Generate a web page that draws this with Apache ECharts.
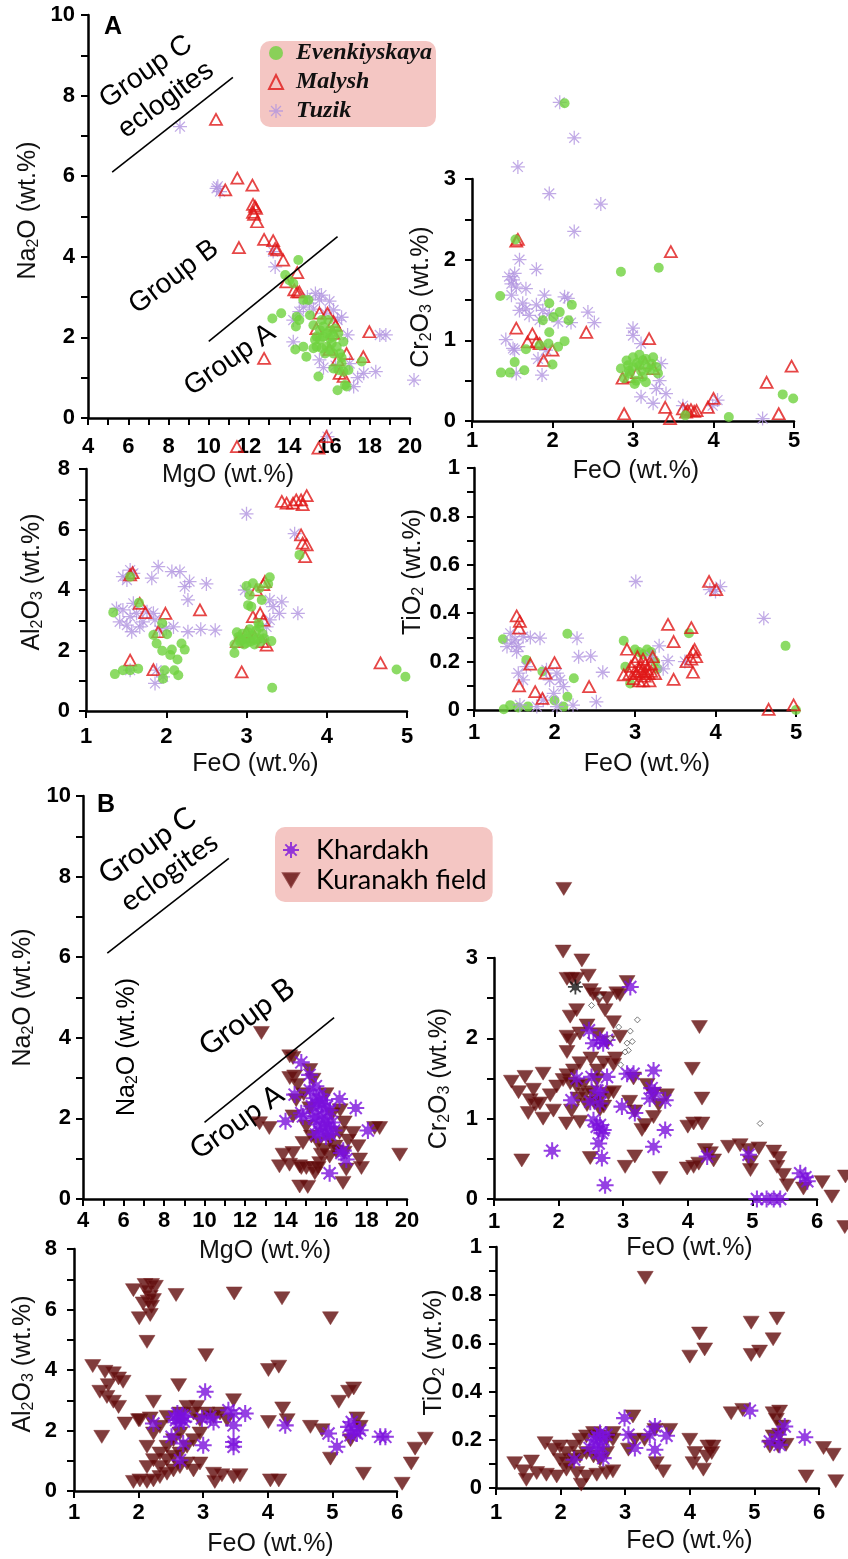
<!DOCTYPE html>
<html>
<head>
<meta charset="utf-8">
<script src="https://cdn.jsdelivr.net/npm/echarts@6/dist/echarts.min.js"></script>
<style>
  html, body { margin: 0; padding: 0; background: #fff; }
  #chart { width: 848px; height: 1559px; }
</style>
</head>
<body>
<div id="chart"></div>
<script>
// ---------- Garnet compositions, wt.% ----------
// Panel A: Na2O vs MgO
const evenkMgO_Na2O = [[14.45,3.92],[13.8,3.55],[14.0,3.42],[14.2,3.34],[14.7,2.93],[14.95,2.93],[13.6,2.6],[13.16,2.47],[14.37,2.51],[14.33,2.27],[14.5,2.43],[14.3,1.70],[14.7,1.77],[14.85,1.52],[15.03,2.55],[15.2,2.3],[15.45,1.03],
  [15.53,2.18],[15.69,2.02],[15.86,2.10],[16.02,2.18],[16.19,2.02],[15.36,1.77],[15.61,1.73],[15.86,1.77],[16.11,1.85],[16.19,1.60],[15.78,1.60],[15.53,1.94],[16.02,1.69],[16.27,2.22],[16.44,2.10],[15.36,2.02],[15.69,2.27],[15.94,2.43],[15.28,1.94],[16.36,1.77],[15.61,2.43],[16.02,1.98],[15.2,1.73],[16.52,1.6],[16.6,1.36],[16.69,1.89],
  [16.4,0.69],[16.85,0.78],[16.77,0.82],[16.19,1.23],[16.44,1.19],[16.69,1.15],[16.94,1.19],[17.6,1.4],[16.6,1.5]];
const malyshMgO_Na2O = [[10.36,7.41],[11.42,5.95],[10.82,5.66],[12.17,5.78],[12.2,5.3],[12.3,5.25],[12.2,5.1],[12.35,5.2],[12.25,5.05],[12.4,4.87],[11.5,4.23],[12.75,4.43],[13.2,4.4],[13.3,4.21],[13.4,4.17],[13.7,3.92],[13.85,3.38],[14.4,3.61],[14.25,3.18],[14.4,3.13],[14.5,3.13],[15.5,2.6],[15.9,2.6],[16.2,2.39],[15.35,2.22],[16.2,2.1],[16.85,1.6],[16.4,1.44],[16.5,1.11],[16.7,1.03],[17.68,1.52],[17.98,2.14],[12.75,1.48],[11.4,-0.71],[15.45,-0.75],[15.85,-0.46],[16.3,2.3],[16.0,1.7]];
const tuzikMgO_Na2O = [[8.57,7.23],[10.39,5.70],[10.56,5.62],[10.45,5.75],[13.3,3.75],[13.2,4.13],[14.2,2.43],[14.2,1.89],[14.5,2.64],[14.9,3.0],[15.3,3.09],[15.5,2.93],[15.8,2.6],[16.2,2.68],[16.4,2.43],[15.5,1.44],[16.9,2.06],[17.2,0.78],[17.7,1.11],[18.3,1.15],[18.5,2.06],[18.8,2.06],[20.2,0.94],[15.9,-0.46],[15.0,2.85],[15.6,3.05],[14.7,2.75],[16.0,2.9],[15.2,2.7],[16.6,2.5],[17.0,1.35],[16.3,1.3],[15.7,1.25],[17.4,1.0]];

// Panel A: Cr2O3 vs FeO
const evenkFeO_Cr2O3 = [[2.15,3.94],[1.54,2.25],[2.85,1.85],[3.32,1.90],[1.35,1.55],[1.96,1.46],[2.24,1.44],[1.88,1.25],[2.01,1.29],[2.09,1.35],[2.20,1.25],[1.96,1.10],[1.67,0.89],[1.84,0.94],[1.95,0.96],[2.07,0.92],[2.15,0.99],[1.53,0.73],[2.0,0.70],[1.36,0.60],[1.47,0.60],[1.65,0.63],
  [2.85,0.65],[2.92,0.75],[3.0,0.79],[3.08,0.82],[3.16,0.77],[3.23,0.71],[3.29,0.67],[3.31,0.59],[2.96,0.59],[3.04,0.50],[3.12,0.55],[3.21,0.63],[2.89,0.53],[3.02,0.46],[3.16,0.48],[3.08,0.69],[3.0,0.67],[2.94,0.69],[3.12,0.75],[3.25,0.79],[2.95,0.62],[3.1,0.62],[3.05,0.72],[3.18,0.66],
  [3.65,0.07],[4.19,0.05],[4.86,0.33],[4.99,0.28]];
const malyshFeO_Cr2O3 = [[1.55,2.23],[1.57,2.25],[3.47,2.10],[1.55,1.15],[1.75,1.08],[1.69,0.98],[1.80,0.98],[1.84,0.96],[2.42,1.10],[2.0,0.88],[1.89,0.75],[3.2,1.02],[2.87,0.53],[3.25,0.65],[2.95,0.55],[3.05,0.6],[3.15,0.72],[2.89,0.09],[3.4,0.17],[3.46,0.03],[3.62,0.15],[3.68,0.13],[3.72,0.14],[3.76,0.12],[3.79,0.13],[3.66,0.11],[3.93,0.17],[4.0,0.28],[4.66,0.48],[4.81,0.09],[4.97,0.68]];
const tuzikFeO_Cr2O3 = [[2.09,3.95],[2.27,3.51],[1.57,3.15],[1.96,2.82],[2.60,2.69],[2.27,2.35],[1.59,2.0],[1.80,1.88],[1.46,1.79],[1.51,1.75],[1.49,1.70],[1.53,1.83],[1.55,1.66],[1.67,1.64],[1.49,1.56],[1.63,1.46],[1.59,1.37],[1.67,1.39],[1.71,1.31],[1.80,1.44],[1.90,1.56],[2.15,1.54],[2.19,1.52],[2.44,1.35],[2.52,1.22],[2.23,1.22],[2.07,1.23],[1.96,1.33],[1.88,1.37],[1.84,1.25],[1.42,1.01],[1.51,0.90],[1.53,0.88],[1.82,0.77],[1.92,0.88],[1.55,0.59],[1.87,0.57],[3.0,1.15],[3.0,1.06],[3.1,0.96],[3.35,0.71],[3.29,0.40],[3.41,0.34],[3.25,0.22],[3.10,0.30],[3.62,0.19],[4.05,0.26],[3.99,0.19],[4.61,0.03],[3.33,0.5]];

// Panel A: Al2O3 vs FeO
const evenkFeO_Al2O3 = [[1.34,3.26],[1.55,4.44],[1.66,3.58],[1.36,1.22],[1.46,1.35],[1.55,1.35],[1.65,1.40],[1.84,2.51],[1.88,2.23],[1.95,2.90],[2.01,2.54],[1.95,1.99],[2.07,2.03],[2.05,1.85],[2.19,2.23],[2.23,2.03],[2.14,1.70],[1.98,1.35],[2.10,1.35],[2.15,1.18],[1.96,1.07],[3.66,5.16],[3.0,4.13],[3.08,4.22],[3.16,4.06],[3.04,3.83],[3.29,4.42],[3.27,4.20],[3.02,3.50],[3.06,3.45],[3.19,3.67],
  [2.85,2.2],[2.9,2.45],[2.92,2.3],[2.95,2.55],[2.97,2.2],[3.0,2.4],[3.02,2.6],[3.05,2.3],[3.07,2.5],[3.1,2.2],[3.12,2.65],[3.14,2.4],[3.16,2.78],[3.18,2.3],[3.2,2.55],[3.22,2.4],[2.88,2.6],[3.0,2.25],[3.1,2.35],[3.04,2.7],[2.94,2.35],[3.15,2.9],
  [2.85,1.92],[3.31,2.31],[3.32,0.77],[4.87,1.37],[4.98,1.13]];
const malyshFeO_Al2O3 = [[3.44,6.93],[3.5,6.87],[3.58,6.87],[3.68,6.98],[3.75,7.12],[3.70,6.82],[3.62,6.98],[3.68,5.82],[3.70,5.55],[3.75,5.49],[3.73,5.10],[1.55,4.50],[1.58,4.57],[1.67,3.56],[1.74,3.25],[1.99,3.23],[2.42,3.34],[1.90,2.62],[1.55,1.68],[1.84,1.37],[2.94,1.29],[3.12,4.0],[3.23,4.28],[3.21,4.18],[3.08,3.12],[3.17,3.23],[3.21,3.0],[3.20,2.29],[3.25,2.18],[2.88,2.29],[3.0,2.6],[3.1,2.45],[4.67,1.59]];
const tuzikFeO_Al2O3 = [[3.0,6.52],[3.6,5.86],[1.55,4.66],[1.46,4.44],[1.59,4.55],[1.51,4.33],[1.90,4.77],[1.82,4.39],[2.07,4.61],[2.17,4.61],[2.23,4.11],[2.29,4.28],[2.27,3.67],[2.50,4.20],[1.46,3.34],[1.55,3.12],[1.59,3.56],[1.67,2.78],[1.51,2.84],[1.57,2.62],[1.71,2.95],[1.63,3.23],[1.76,3.28],[1.84,3.23],[1.86,3.01],[1.92,2.67],[2.0,2.73],[2.09,2.78],[2.27,2.62],[2.43,2.70],[2.61,2.67],[1.55,1.35],[1.88,1.35],[1.86,0.91],[1.96,1.13],[2.98,4.0],[3.29,3.67],[3.33,3.45],[3.41,3.23],[3.29,3.01],[3.25,2.78],[3.21,2.34],[3.64,3.23],[3.44,3.61],[1.38,3.39],[1.42,2.95]];

// Panel A: TiO2 vs FeO
const evenkFeO_TiO2 = [[1.36,0.292],[1.37,0.003],[1.65,0.207],[1.67,0.014],[1.85,0.159],[2.0,0.039],[2.11,0.014],[2.16,0.315],[2.16,0.055],[2.24,0.131],[2.86,0.286],[2.88,0.179],[2.94,0.11],[3.0,0.25],[3.05,0.24],[3.1,0.23],[3.2,0.24],[3.25,0.2],[3.28,0.17],[3.15,0.25],[3.67,0.317],[4.87,0.265],[5.0,0.0],[1.55,0.01],[1.45,0.02]];
const malyshFeO_TiO2 = [[1.53,0.389],[1.57,0.366],[1.56,0.338],[1.70,0.19],[1.56,0.10],[1.76,0.076],[1.85,0.048],[1.89,0.152],[2.0,0.196],[2.43,0.097],[2.90,0.251],[2.86,0.145],
  [2.95,0.18],[2.98,0.13],[3.0,0.2],[3.02,0.15],[3.05,0.12],[3.07,0.18],[3.1,0.21],[3.12,0.14],[3.15,0.17],[3.18,0.12],[3.2,0.19],[3.22,0.22],[3.25,0.15],[3.0,0.16],[3.08,0.16],[3.13,0.19],[3.03,0.22],[3.17,0.15],[2.93,0.15],[3.1,0.12],[3.05,0.17],[3.12,0.16],[3.2,0.16],
  [3.41,0.354],[3.48,0.283],[3.48,0.127],[3.70,0.34],[3.72,0.156],[3.64,0.2],[3.72,0.24],[3.76,0.22],[3.70,0.21],[3.74,0.25],[3.92,0.531],[4.01,0.497],[4.66,0.003],[4.97,0.021]];
const tuzikFeO_TiO2 = [[3.01,0.531],[3.93,0.497],[4.06,0.51],[4.0,0.49],[4.6,0.379],[1.45,0.317],[1.51,0.290],[1.55,0.262],[1.47,0.276],[1.61,0.303],[1.53,0.241],[1.41,0.262],[1.70,0.30],[1.82,0.297],[2.28,0.297],[2.30,0.22],[2.45,0.223],[2.60,0.156],[2.52,0.034],[2.23,0.02],[1.90,0.166],[2.03,0.152],[2.07,0.124],[1.94,0.124],[2.11,0.097],[1.99,0.069],[1.86,0.041],[2.03,0.014],[1.78,0.014],[1.57,0.021],[1.61,0.124],[1.55,0.152],[1.65,0.179],[3.3,0.265],[3.41,0.204],[3.62,0.2],[3.35,0.17],[3.2,0.22]];

// Panel B: Na2O vs MgO
const kuranakhMgO_Na2O = [[12.81,4.12],[14.21,3.54],[14.37,3.50],[14.45,3.04],[14.21,3.0],[14.6,2.83],[12.72,1.88],[13.2,1.76],[13.88,1.10],[13.7,0.81],[14.2,0.85],[14.37,1.14],[14.7,0.81],[14.78,0.77],[15.03,0.77],[15.36,0.77],[15.45,0.64],[14.7,0.31],[15.1,0.30],[14.86,1.39],[15.69,0.89],[15.61,0.77],[17.0,0.73],[16.84,0.40],[17.33,1.64],[17.58,1.31],[17.66,0.98],[17.75,0.77],[18.4,1.76],[18.65,1.76],[19.64,1.10],[16.5,1.18],[16.67,1.64],[16.2,1.47],[16.45,1.3],[14.37,2.05],[14.53,2.45],[15.36,2.96],[15.2,3.2],[15.03,1.80],[15.28,1.55],[15.6,1.39],[15.93,1.22],[16.18,1.05],[15.77,1.1],[16.9,1.9],[17.1,1.45],[16.3,2.1],[16.7,2.2],[16.0,2.6],[15.2,2.25],[14.9,2.6],[16.9,1.15]];
const khardakhMgO_Na2O = [[14.78,3.39],[15.19,3.08],[14.45,2.59],[14.0,1.93],[14.78,2.13],[14.86,2.05],[15.2,2.7],[15.4,2.5],[15.5,2.8],[15.6,2.3],[15.7,2.6],[15.8,2.1],[15.9,2.45],[16.0,2.0],[16.1,1.8],[16.2,2.2],[15.5,2.05],[15.6,1.85],[15.7,1.65],[15.9,1.75],[16.0,1.55],[16.2,1.6],[16.3,1.9],[15.3,2.3],[15.4,2.0],[15.8,2.35],[15.65,2.45],[16.05,2.3],[15.95,1.9],[16.4,1.7],[15.5,1.6],[16.67,2.48],[17.47,2.26],[18.07,1.70],[16.76,1.14],[17.0,0.98],[16.85,1.2],[16.18,0.64]];

// Panel B: Cr2O3 vs FeO
const kuranakhFeO_Cr2O3 = [[2.08,3.86],[2.07,3.08],[2.36,2.97],[2.46,2.78],[2.13,2.74],[2.20,2.74],[2.28,2.74],[2.49,2.6],[2.54,2.55],[2.62,2.5],[2.75,2.5],[2.90,2.56],[2.95,2.54],[3.06,2.7],[2.28,2.35],[2.18,2.27],[2.72,2.35],[2.44,2.16],[2.85,2.2],[2.13,2.02],[2.18,1.98],[2.33,2.06],[2.95,2.02],[2.13,1.83],[2.33,1.69],[2.23,1.6],[2.13,1.54],[2.88,1.75],[2.85,1.67],[1.27,1.46],[1.48,1.52],[1.76,1.56],[1.38,1.33],[1.61,1.36],[1.56,1.23],[1.64,1.17],[1.71,1.19],[1.53,1.07],[1.76,1.0],[1.92,1.10],[1.87,1.29],[1.97,1.40],[2.12,0.94],[2.33,0.96],
  [2.07,1.48],[2.18,1.44],[2.28,1.40],[2.38,1.42],[2.51,1.33],[2.59,1.48],[2.64,1.25],[2.77,1.31],[2.85,1.33],[2.44,1.17],[2.64,1.11],
  [3.16,1.5],[3.10,1.21],[3.18,1.09],[3.37,1.42],[3.47,1.31],[3.34,0.92],[3.47,1.02],[3.55,1.17],[3.67,1.29],[3.29,0.86],[1.43,0.48],[2.49,0.51],[3.03,0.40],[3.18,0.53],[3.57,0.26],[4.07,1.62],[4.18,2.14],[4.22,1.25],
  [4.0,0.9],[4.09,0.94],[4.22,0.94],[4.27,0.61],[4.35,0.57],[4.40,0.48],[4.17,0.44],[3.99,0.38],[4.09,0.40],[4.63,0.65],[4.81,0.67],[4.94,0.61],[5.10,0.63],[4.97,0.36],[4.97,0.46],[5.33,0.59],[5.41,0.51],[5.38,0.40],[5.48,0.30],[5.54,0.17],
  [5.79,0.13],[6.08,0.21],[6.23,0.03],[6.44,0.28],[6.43,-0.35],
  [2.4,1.3],[2.55,1.2],[2.7,1.15],[2.2,1.1],[2.3,1.25],[2.6,1.6],[2.7,1.7],[2.5,1.75],[2.75,1.95],[2.6,2.05]];
const khardakhFeO_Cr2O3 = [[3.11,2.64],[2.47,2.10],[2.54,1.94],[2.64,1.98],[2.69,1.94],[2.75,1.98],[3.06,1.56],[3.16,1.56],[3.47,1.60],[2.28,1.50],[2.51,1.52],[2.75,1.52],[2.6,1.35],[2.65,1.33],[2.20,1.23],[2.49,1.21],[2.64,1.19],[2.98,1.15],[3.18,1.07],[3.44,1.38],[3.49,1.32],[3.41,1.25],[3.65,1.23],[2.54,0.98],[2.64,0.92],[2.69,0.86],[2.59,0.90],[2.67,0.82],[3.65,0.86],[2.62,0.69],[1.90,0.60],[2.67,0.51],[3.47,0.65],[2.72,0.17],[4.30,0.53],[4.94,0.55],[5.07,0.0],[5.22,0.0],[5.33,0.0],[5.43,0.0],[5.74,0.32],[5.82,0.27],[5.85,0.22]];
const otherStarFeO_Cr2O3 = [[2.26,2.64]];
const otherDiamondFeO_Cr2O3 = [[2.51,2.41],[2.64,2.52],[2.93,2.14],[3.11,2.09],[3.22,2.23],[3.06,1.94],[3.14,1.96],[3.08,1.85],[3.03,1.83],[2.96,1.67],[2.80,2.0],[5.12,0.94]];

// Panel B: Al2O3 vs FeO
const kuranakhFeO_Al2O3 = [[1.92,6.64],[2.10,6.81],[2.20,6.81],[2.26,6.75],[2.13,6.59],[2.18,6.42],[2.15,6.26],[2.23,6.31],[2.07,6.20],[2.20,6.09],[2.01,5.71],[2.18,5.82],[2.13,4.93],[2.58,6.48],[3.04,4.49],[3.48,6.53],[4.22,6.37],[4.97,5.71],[1.29,4.13],[1.48,3.94],[1.61,3.89],[1.69,3.72],[1.76,3.61],[1.40,3.28],[1.51,3.11],[1.61,2.95],[1.69,2.78],[1.79,2.23],[1.43,1.79],[1.53,3.50],[2.62,3.50],[2.23,2.95],[4.01,4.0],[4.17,4.11],[4.01,2.28],[4.23,2.73],[4.30,2.34],[4.66,2.12],[4.84,2.01],[4.97,1.07],[5.10,2.95],[5.25,3.28],[5.33,3.39],[5.28,1.68],[5.38,2.40],[5.43,2.12],[5.48,0.57],[6.08,0.24],[6.22,0.91],[6.28,1.40],[6.44,1.73],[3.47,3.0],[4.04,0.35],[4.17,0.35],[3.16,0.57],[3.29,0.52],[3.47,0.46],[3.57,0.52],[3.18,0.30],
  [1.92,0.30],[2.02,0.35],[2.13,0.30],[2.23,0.35],[2.33,0.46],[2.44,0.57],[2.54,0.68],[2.64,0.79],[2.75,0.91],[2.85,0.68],[2.95,0.91],[2.33,0.79],[2.44,1.02],[2.54,1.13],[2.64,1.24],[2.75,1.46],[2.85,1.68],[2.95,1.90],[2.13,0.79],[2.23,1.02],[2.33,1.24],[2.44,1.46],[2.54,1.68],[2.64,1.90],[2.23,1.90],[2.13,1.46],[2.02,2.34],[2.33,2.12],[2.44,2.45],[2.64,2.56],[2.75,2.78],[2.85,2.56],[2.95,2.34],[3.06,2.56],[3.16,2.45],[3.26,2.56],[3.37,2.34],[2.90,2.78],[2.18,2.40],[2.0,2.34]];
const khardakhFeO_Al2O3 = [[3.03,3.28],[2.23,2.23],[2.51,1.79],[2.55,2.45],[2.6,2.56],[2.65,2.4],[2.7,2.3],[2.62,2.25],[2.68,2.5],[2.58,2.35],[2.72,2.45],[2.64,1.02],[2.69,1.57],[3.0,1.51],[2.98,2.40],[3.16,2.28],[3.11,2.45],[3.39,2.67],[3.47,2.56],[3.47,2.17],[3.47,1.62],[3.47,1.46],[3.65,2.56],[4.27,2.17],[4.94,1.90],[5.07,1.46],[5.25,2.12],[5.33,2.01],[5.38,1.90],[5.43,2.01],[5.28,1.84],[5.30,2.28],[5.74,1.79],[5.82,1.79]];

// Panel B: TiO2 vs FeO
const kuranakhFeO_TiO2 = [[3.31,0.872],[4.15,0.641],[4.23,0.575],[4.0,0.545],[4.95,0.686],[4.95,0.552],[5.08,0.566],[5.29,0.617],[5.35,0.703],[4.64,0.31],[4.82,0.324],[5.29,0.310],[5.39,0.317],[5.34,0.283],[5.42,0.255],[5.39,0.221],[5.29,0.214],[5.24,0.172],[5.37,0.172],[5.49,0.179],[6.07,0.166],[6.22,0.138],[5.8,0.048],[6.26,0.028],[4.0,0.2],[4.08,0.145],[4.05,0.103],[4.21,0.076],[4.28,0.172],[4.36,0.172],[4.26,0.131],[4.34,0.145],[3.46,0.241],[3.69,0.241],[3.48,0.103],[3.59,0.069],[2.81,0.2],[3.12,0.297],[3.05,0.159],[1.76,0.186],[1.29,0.103],[1.55,0.11],
  [1.42,0.069],[1.63,0.062],[1.78,0.055],[1.94,0.048],[2.09,0.076],[2.25,0.062],[2.40,0.048],[2.56,0.055],[2.71,0.062],[2.81,0.069],[1.47,0.034],[2.32,0.014],
  [1.89,0.159],[1.99,0.172],[2.09,0.145],[2.20,0.172],[2.30,0.2],[2.40,0.214],[2.51,0.228],[2.61,0.214],[2.71,0.2],[2.81,0.228],[1.99,0.117],[2.09,0.103],[2.20,0.117],[2.30,0.131],[2.40,0.145],[2.51,0.131],[2.61,0.117],[2.71,0.145],[3.3,0.2],[3.15,0.2]];
const khardakhFeO_TiO2 = [[2.99,0.29],[3.05,0.221],[3.15,0.166],[2.21,0.117],[2.45,0.166],[2.56,0.214],[2.61,0.228],[2.66,0.2],[2.71,0.221],[2.63,0.172],[2.66,0.124],[2.58,0.145],[2.52,0.2],[2.55,0.18],[3.38,0.221],[3.46,0.255],[3.46,0.159],[3.64,0.217],[4.93,0.321],[5.24,0.193],[5.37,0.221],[5.47,0.255],[5.39,0.179],[5.78,0.211]];

// Boundaries between eclogite groups (MgO, Na2O)
const boundaryC = [[5.2,6.1],[11.2,8.45]];
const boundaryAB = [[10,1.9],[16.4,4.5]];

// ---------- styling ----------
const SANS = '"Liberation Sans", Arial, Helvetica, sans-serif';
const SERIF = '"Liberation Serif", "Times New Roman", serif';
const LATO = 'Lato, "Open Sans", sans-serif';

const STAR_THIN = 'path://M0 9.1L20 9.1L20 10.9L0 10.9Z M9.1 0L10.9 0L10.9 20L9.1 20Z M3.57 2.29L17.71 16.43L16.43 17.71L2.29 3.57Z M17.71 3.57L3.57 17.71L2.29 16.43L16.43 2.29Z';
const STAR_SUN = 'path://M0 8.8L20 8.8L20 11.2L0 11.2Z M8.8 0L11.2 0L11.2 20L8.8 20Z M3.78 2.08L17.92 16.22L16.22 17.92L2.08 3.78Z M17.92 3.78L3.78 17.92L2.08 16.22L16.22 2.08Z M15 10A5 5 0 1 1 5 10A5 5 0 1 1 15 10Z';
const DOWN_TRIANGLE = 'path://M0 0L20 0L10 17Z';

const styleEvenk = { symbol: 'circle', symbolSize: 10, itemStyle: { color: '#6fd23e' } };
const styleMalysh = { symbol: 'triangle', symbolSize: [12, 11], itemStyle: { color: 'rgba(255,255,255,0)', borderColor: '#e01818', borderWidth: 1.8 } };
const styleTuzik = { symbol: STAR_THIN, symbolSize: 14, itemStyle: { color: '#b295e0' } };
const styleKhardakh = { symbol: STAR_SUN, symbolSize: 17, itemStyle: { color: '#7a10dc' } };
const styleKuranakh = { symbol: DOWN_TRIANGLE, symbolSize: [16, 13], itemStyle: { color: '#600b0b', borderColor: '#803030', borderWidth: 0.6 } };

const GRIDS = [
  { left: 88, top: 15, width: 322, height: 403 },
  { left: 472, top: 179, width: 322, height: 242 },
  { left: 86, top: 469, width: 321, height: 242 },
  { left: 474, top: 468, width: 322, height: 242 },
  { left: 83, top: 796, width: 324, height: 403 },
  { left: 494, top: 958, width: 323, height: 241 },
  { left: 74, top: 1249, width: 323, height: 242 },
  { left: 496, top: 1247, width: 323, height: 241 }
];

const TITLES = {
  na: '{t|Na}{s|2}{t|O (wt.%)}',
  cr: '{t|Cr}{s|2}{t|O}{s|3}{t| (wt.%)}',
  al: '{t|Al}{s|2}{t|O}{s|3}{t| (wt.%)}',
  ti: '{t|TiO}{s|2}{t| (wt.%)}'
};
const richTitle = {
  t: { fontFamily: SANS, fontSize: 25, lineHeight: 28, color: '#111' },
  s: { fontFamily: SANS, fontSize: 16, lineHeight: 28, verticalAlign: 'bottom', color: '#111' }
};

// axis specs: [min, max, interval, minorSplit, name, nameGap, shift, labelMargin]
const X_AXES = [
  [4, 20, 2, 2, 'MgO (wt.%)', 43, -21, 18],
  [1, 5, 1, 0, 'FeO (wt.%)', 36, 3, 9],
  [1, 5, 1, 0, 'FeO (wt.%)', 39, 9, 15],
  [1, 5, 1, 0, 'FeO (wt.%)', 40, 12, 12],
  [4, 20, 2, 2, 'MgO (wt.%)', 38, 20, 11],
  [1, 6, 1, 0, 'FeO (wt.%)', 35, 34, 12],
  [1, 6, 1, 0, 'FeO (wt.%)', 39, 35, 11],
  [1, 6, 1, 0, 'FeO (wt.%)', 39, 32, 14]
];
const Y_AXES = [
  [0, 10, 2, 2, TITLES.na, 46, 6, 13],
  [0, 3, 1, 2, TITLES.cr, 37, 3, 16],
  [0, 8, 2, 2, TITLES.al, 40, 8, 16],
  [0, 1, 0.2, 2, TITLES.ti, 47, 17, 14],
  [0, 10, 2, 2, TITLES.na, 46, 0, 12],
  [0, 3, 1, 2, TITLES.cr, 41, 0, 16],
  [0, 8, 2, 2, TITLES.al, 37, 6, 17],
  [0, 1, 0.2, 2, TITLES.ti, 48, 15, 14]
];

function axis(i, spec, isY) {
  const [min, max, interval, minor, name, gap, shift, margin] = spec;
  const pad = shift >= 0 ? [0, 0, 0, 2 * shift] : [0, -2 * shift, 0, 0];
  return {
    type: 'value', gridIndex: i, position: isY ? 'left' : 'bottom',
    min, max, interval,
    axisLine: { show: true, onZero: false, lineStyle: { color: '#000', width: 2.5 } },
    axisTick: { show: true, length: 7, lineStyle: { color: '#000', width: 2 } },
    minorTick: { show: minor > 1, splitNumber: minor || 2, length: 7, lineStyle: { color: '#000', width: 2 } },
    splitLine: { show: false }, minorSplitLine: { show: false },
    axisLabel: { margin, fontFamily: SANS, fontWeight: 700, fontSize: 22, color: '#000', showMinLabel: true, showMaxLabel: true, hideOverlap: false },
    name, nameLocation: 'middle', nameGap: gap, nameRotate: isY ? 90 : 0, nameMoveOverlap: false,
    nameTextStyle: isY
      ? { rich: richTitle, padding: pad }
      : { fontFamily: SANS, fontSize: 25, lineHeight: 28, color: '#111', padding: pad }
  };
}

function scatter(name, data, gi, style) {
  return Object.assign({ type: 'scatter', name, data, xAxisIndex: gi, yAxisIndex: gi, clip: false, silent: true }, style);
}
function boundary(data, gi) {
  return { type: 'line', data, xAxisIndex: gi, yAxisIndex: gi, symbol: 'none', silent: true,
    lineStyle: { color: '#000', width: 1.6 } };
}

const series = [
  boundary(boundaryC, 0), boundary(boundaryAB, 0),
  scatter('Tuzik', tuzikMgO_Na2O, 0, styleTuzik),
  scatter('Malysh', malyshMgO_Na2O, 0, styleMalysh),
  scatter('Evenkiyskaya', evenkMgO_Na2O, 0, styleEvenk),

  scatter('Tuzik', tuzikFeO_Cr2O3, 1, styleTuzik),
  scatter('Malysh', malyshFeO_Cr2O3, 1, styleMalysh),
  scatter('Evenkiyskaya', evenkFeO_Cr2O3, 1, styleEvenk),

  scatter('Tuzik', tuzikFeO_Al2O3, 2, styleTuzik),
  scatter('Malysh', malyshFeO_Al2O3, 2, styleMalysh),
  scatter('Evenkiyskaya', evenkFeO_Al2O3, 2, styleEvenk),

  scatter('Evenkiyskaya', evenkFeO_TiO2, 3, styleEvenk),
  scatter('Tuzik', tuzikFeO_TiO2, 3, styleTuzik),
  scatter('Malysh', malyshFeO_TiO2, 3, styleMalysh),

  boundary(boundaryC, 4), boundary(boundaryAB, 4),
  scatter('Kuranakh field', kuranakhMgO_Na2O, 4, styleKuranakh),
  scatter('Khardakh', khardakhMgO_Na2O, 4, styleKhardakh),

  scatter('Kuranakh field', kuranakhFeO_Cr2O3, 5, styleKuranakh),
  scatter('Khardakh', khardakhFeO_Cr2O3, 5, styleKhardakh),
  scatter('', otherDiamondFeO_Cr2O3, 5, { symbol: 'diamond', symbolSize: 6, itemStyle: { color: '#fff', borderColor: '#555', borderWidth: 1 } }),
  scatter('', otherStarFeO_Cr2O3, 5, { symbol: STAR_SUN, symbolSize: 15, itemStyle: { color: '#111' } }),

  scatter('Kuranakh field', kuranakhFeO_Al2O3, 6, styleKuranakh),
  scatter('Khardakh', khardakhFeO_Al2O3, 6, styleKhardakh),

  scatter('Kuranakh field', kuranakhFeO_TiO2, 7, styleKuranakh),
  scatter('Khardakh', khardakhFeO_TiO2, 7, styleKhardakh)
];

function groupLabel(text, x, y, deg, font, size) {
  return { type: 'text', x, y, rotation: deg * Math.PI / 180, silent: true,
    style: { text, fontFamily: font, fontSize: size, fill: '#000', align: 'center', verticalAlign: 'middle' } };
}

const chart = echarts.init(document.getElementById('chart'), null, { renderer: 'canvas' });
chart.setOption({
  animation: false,
  backgroundColor: '#fff',
  grid: GRIDS.map(g => Object.assign({ containLabel: false, outerBoundsMode: 'none' }, g)),
  xAxis: X_AXES.map((s, i) => axis(i, s, false)),
  yAxis: Y_AXES.map((s, i) => axis(i, s, true)),
  legend: [
    {
      data: [
        { name: 'Evenkiyskaya', icon: 'circle' },
        { name: 'Malysh', icon: 'triangle' },
        { name: 'Tuzik', icon: STAR_THIN }
      ],
      orient: 'vertical', left: 260, top: 41,
      itemWidth: 14, itemHeight: 14, itemGap: 5, padding: [0, 4, 4, 8], selectedMode: false,
      backgroundColor: '#f4c6c3', borderRadius: 10,
      textStyle: { fontFamily: SERIF, fontStyle: 'italic', fontWeight: 'bold', fontSize: 24, lineHeight: 24, color: '#111', padding: [0, 0, 0, 8] }
    },
    {
      data: [
        { name: 'Khardakh', icon: STAR_SUN },
        { name: 'Kuranakh field', icon: DOWN_TRIANGLE }
      ],
      orient: 'vertical', left: 275, top: 827,
      itemWidth: 16, itemHeight: 16, itemGap: 0, padding: [8, 6, 7, 7], selectedMode: false,
      backgroundColor: '#f4c6c3', borderRadius: 10,
      textStyle: { fontFamily: LATO, fontSize: 27, lineHeight: 30, color: '#000', padding: [0, 0, 0, 12] }
    }
  ],
  graphic: [
    { type: 'text', x: 113, y: 27, silent: true, style: { text: 'A', fontFamily: SANS, fontWeight: 'bold', fontSize: 25, fill: '#000', align: 'center', verticalAlign: 'middle' } },
    { type: 'text', x: 106, y: 805, silent: true, style: { text: 'B', fontFamily: SANS, fontWeight: 'bold', fontSize: 25, fill: '#000', align: 'center', verticalAlign: 'middle' } },
    groupLabel('Group C', 146, 72, 35, SANS, 28),
    groupLabel('eclogites', 166, 100, 36, SANS, 28),
    groupLabel('Group B', 174, 277, 37, SANS, 28),
    groupLabel('Group A', 230, 360, 35, SANS, 28),
    groupLabel('Group C', 147, 846, 35, LATO, 30),
    groupLabel('eclogites', 169, 872, 36, LATO, 29),
    groupLabel('Group B', 247, 1017, 36, LATO, 30),
    groupLabel('Group A', 237, 1122, 35, LATO, 29),
    { type: 'text', x: 127, y: 1047, rotation: Math.PI / 2, silent: true,
      style: { text: TITLES.na, rich: richTitle, align: 'center', verticalAlign: 'middle' } }
  ],
  series
});
</script>
</body>
</html>
